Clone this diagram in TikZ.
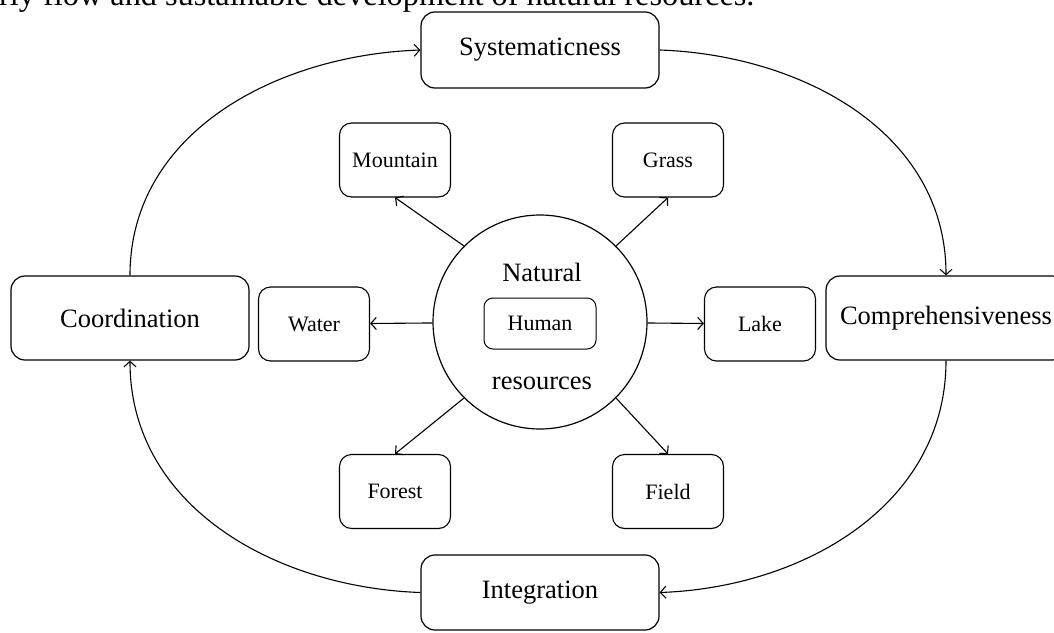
\documentclass[tikz,border=0pt]{standalone}
\usepackage{fontspec}
\setmainfont{Liberation Serif}
\usetikzlibrary{arrows.meta, positioning}

\begin{document}
\begin{tikzpicture}[
      x=1pt, y=1pt,
      bigbox/.style={rectangle, draw, rounded corners=14pt, line width=1.2pt,
                     minimum width=238pt, minimum height=80pt, align=center,
                     font=\fontsize{26.5}{30}\selectfont},
      smallbox/.style={rectangle, draw, rounded corners=12pt, line width=1.1pt,
                       minimum width=111pt, minimum height=74pt, align=center,
                       font=\fontsize{22}{26}\selectfont},
      hubtext/.style={inner sep=0pt, font=\fontsize{26.5}{30}\selectfont},
      arr/.style={-{Straight Barb[length=5.5pt, width=12pt]}, line width=1.1pt}
    ]
    \clip (0,0) rectangle (1054,-632);

    % line of running text above the figure
    \node[anchor=base west, inner sep=0pt, font=\fontsize{32.3}{36}\selectfont]
      (topline) at (-1,-5.5) {rly flow and sustainable development of natural resources.};

    % centre: natural and human resources
    \node[circle, draw, line width=1.2pt, minimum size=214pt] (hub) at (540,-322) {};
    \node[smallbox, rounded corners=9pt, line width=1pt, minimum width=112pt,
          minimum height=51pt] (human) at (540,-323.5) {Human};
    \node[hubtext] (natural) at (542,-272) {Natural};
    \node[hubtext] (resources) at (542,-383) {resources};

    % six resource types
    \node[smallbox] (mountain) at (395,-160) {Mountain};
    \node[smallbox] (grass) at (668,-160) {Grass};
    \node[smallbox] (water) at (314,-324) {Water};
    \node[smallbox] (lake) at (760,-324) {Lake};
    \node[smallbox] (forest) at (395,-491.5) {Forest};
    \node[smallbox] (field) at (668,-491.5) {Field};

    % outer ring of principles
    \node[bigbox, minimum height=76pt] (system) at (540,-50) {Systematicness};
    \node[bigbox, minimum height=84pt] (coord) at (130,-318) {Coordination};
    \node[bigbox, minimum width=240pt, minimum height=84pt] (compre) at (946,-318) {Comprehensiveness};
    \node[bigbox, minimum height=75pt] (integ) at (540,-592.5) {Integration};

    \draw[arr] (hub) -- (water);
    \draw[arr] (hub) -- (lake);
    \draw[arr] (hub.135) -- (mountain.south);
    \draw[arr] (hub.45) -- (grass.south);
    \draw[arr] (hub.-135) -- (forest.north);
    \draw[arr] (hub.-45) -- (field.north);

    \draw[arr] (coord.north) to[out=90, in=182] (system.west);
    \draw[arr] (system.east) to[out=-2, in=90] (compre.north);
    \draw[arr] (compre.south) to[out=-90, in=2] (integ.east);
    \draw[arr] (integ.west) to[out=178, in=-90] (coord.south);
  \end{tikzpicture}
\end{document}
